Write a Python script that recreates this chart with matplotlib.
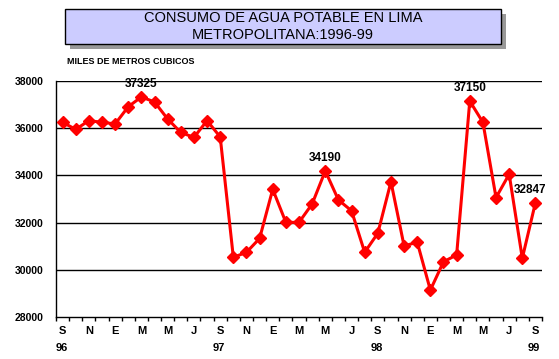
import matplotlib.pyplot as plt
from matplotlib.patches import Rectangle

plt.rcParams['font.family'] = ['Liberation Sans', 'DejaVu Sans']

# monthly consumption, Sep 1996 .. Sep 1999 (thousand m3)
consumo = [36250, 35950, 36320, 36250, 36180, 36910, 37325, 37110, 36390,
           35820, 35610, 36320, 35630, 30530, 30740, 31330, 33410, 32010,
           32010, 32790, 34190, 32960, 32500, 30740, 31550, 33730, 31010,
           31170, 29140, 30340, 30630, 37150, 36250, 33060, 34050, 30490,
           32847]
meses = ['S', 'N', 'E', 'M', 'M', 'J'] * 3 + ['S']
anios = {0: '96', 12: '97', 24: '98', 36: '99'}
etiquetas = {6: '37325', 20: '34190', 31: '37150', 36: '32847'}
y_ticks = [28000, 30000, 32000, 34000, 36000, 38000]

fig = plt.figure(figsize=(5.59, 3.59), dpi=100)
ax = fig.add_axes([0.1002, 0.117, 0.8694, 0.6574])

n = len(consumo)
x = list(range(n))
ax.plot(x, consumo, color='#ff0000', lw=2.2, marker='D', ms=6,
        markeredgecolor='#ff0000', zorder=3)

ax.set_xlim(-0.5, n - 0.5)
ax.set_ylim(28000, 38000)
ax.set_yticks(y_ticks)
ax.set_yticklabels([str(v) for v in y_ticks], fontsize=7.5, fontweight='bold')
ax.tick_params(axis='y', length=0, pad=9)

for v in y_ticks[1:]:
    ax.axhline(v, color='black', lw=1, zorder=1)

# tick marks at month boundaries, labels every 2 months
ax.set_xticks([i - 0.5 for i in range(n + 1)])
ax.set_xticklabels([])
ax.tick_params(axis='x', length=3, width=1, direction='out')
for i in range(0, n, 2):
    ax.text(i, -0.04, meses[i // 2], transform=ax.get_xaxis_transform(),
            ha='center', va='top', fontsize=8, fontweight='bold')
for i, a in anios.items():
    ax.text(i - 0.1, -0.11, a, transform=ax.get_xaxis_transform(),
            ha='center', va='top', fontsize=8, fontweight='bold')

for i, t in etiquetas.items():
    dx = -4 if i == n - 1 else 0
    ax.annotate(t, (i, consumo[i]), xytext=(dx, 5), textcoords='offset points',
                ha='center', va='bottom', fontsize=8.5, fontweight='bold')

for s in ['top', 'right']:
    ax.spines[s].set_visible(False)
ax.spines['left'].set_linewidth(1)
ax.spines['bottom'].set_linewidth(1)

# title box with shadow
W, H = 559, 359
fig.patches.append(Rectangle((70 / W, 1 - 49 / H), 436 / W, 35 / H,
                             transform=fig.transFigure, facecolor='#999999',
                             edgecolor='none', zorder=0))
fig.patches.append(Rectangle((65 / W, 1 - 44 / H), 436 / W, 35 / H,
                             transform=fig.transFigure, facecolor='#ccccff',
                             edgecolor='black', lw=1, zorder=1))
fig.text(283 / W, 1 - 18 / H, 'CONSUMO DE AGUA POTABLE EN LIMA',
         ha='center', va='center', fontsize=10.5, zorder=2)
fig.text(283 / W, 1 - 35 / H, 'METROPOLITANA:1996-99',
         ha='center', va='center', fontsize=10.5, zorder=2)
fig.text(67 / W, 1 - 62 / H, 'MILES DE METROS CUBICOS', ha='left',
         va='center', fontsize=6.5, fontweight='bold')

fig.savefig('out.png', dpi=100)
